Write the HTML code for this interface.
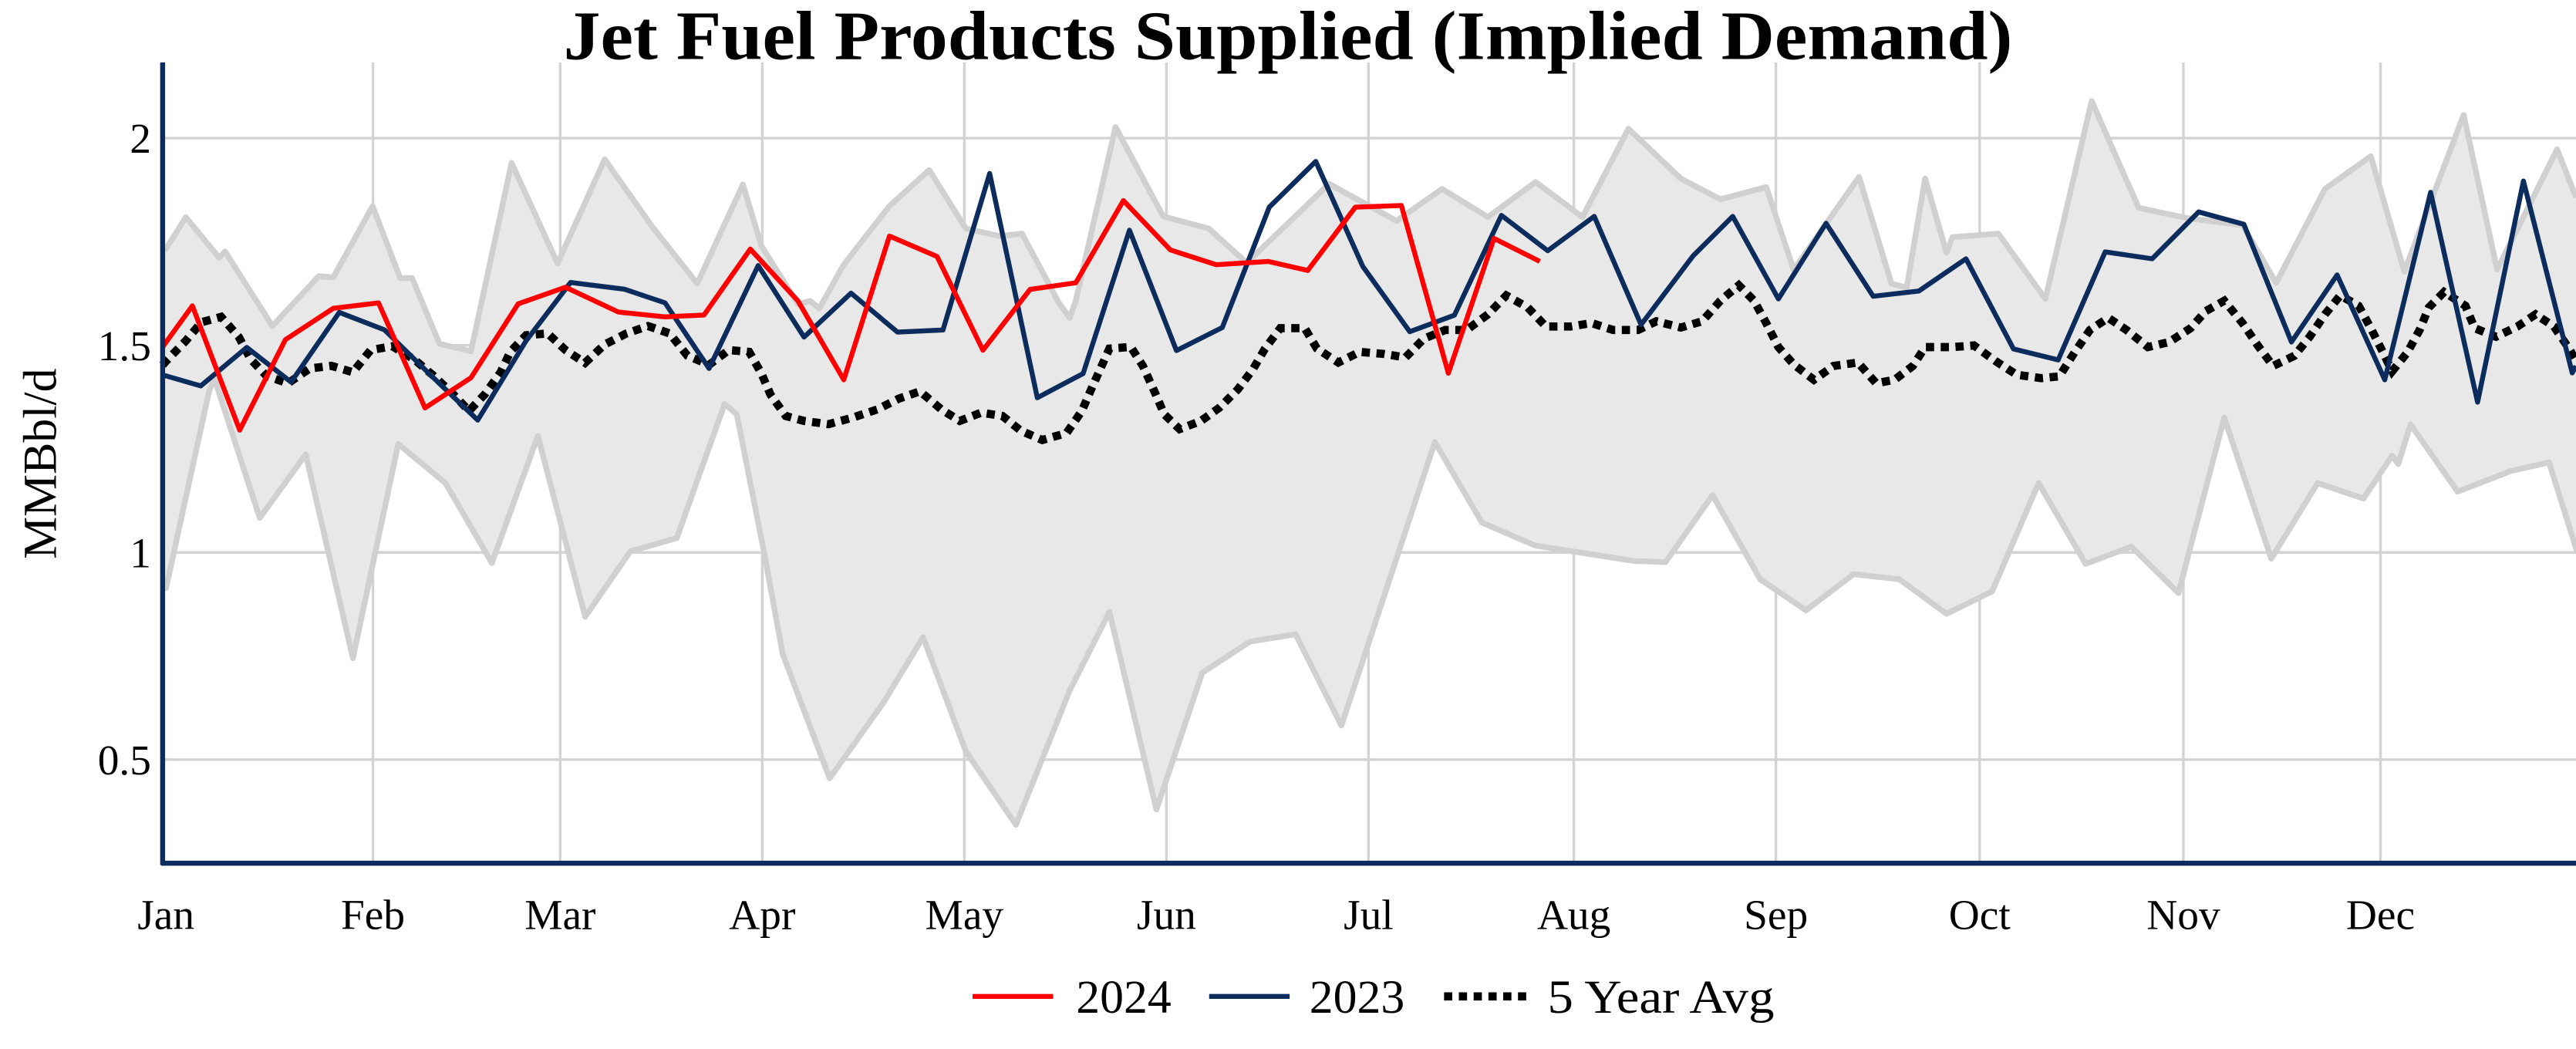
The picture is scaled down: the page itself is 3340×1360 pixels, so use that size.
<!DOCTYPE html>
<html><head><meta charset="utf-8"><style>
html,body{margin:0;padding:0;background:#fff;}
svg{display:block;}
text{font-family:"Liberation Serif",serif;fill:#000;}
</style></head><body>
<svg width="3340" height="1360" viewBox="0 0 1568 638" preserveAspectRatio="none" xmlns="http://www.w3.org/2000/svg">
<text x="343" y="36" font-size="42" font-weight="bold" textLength="882" lengthAdjust="spacingAndGlyphs">Jet Fuel Products Supplied (Implied Demand)</text>
<g stroke="#d3d3d3" stroke-width="1.6">
<line x1="99" y1="84" x2="1568" y2="84"/><line x1="99" y1="210" x2="1568" y2="210"/><line x1="99" y1="336" x2="1568" y2="336"/><line x1="99" y1="462" x2="1568" y2="462"/>
<line x1="227" y1="38" x2="227" y2="525"/><line x1="341" y1="38" x2="341" y2="525"/><line x1="464" y1="38" x2="464" y2="525"/><line x1="587" y1="38" x2="587" y2="525"/><line x1="710" y1="38" x2="710" y2="525"/><line x1="833" y1="38" x2="833" y2="525"/><line x1="958" y1="38" x2="958" y2="525"/><line x1="1081" y1="38" x2="1081" y2="525"/><line x1="1205" y1="38" x2="1205" y2="525"/><line x1="1329" y1="38" x2="1329" y2="525"/><line x1="1449" y1="38" x2="1449" y2="525"/>
</g>
<polygon fill="#e8e8e8" points="99,150 101.1,151.2 113.1,132.1 133.4,156.8 137,153 165.8,198.3 194,168 202.9,168.7 226.8,125.4 243.6,169.1 250.8,169.1 267.5,209.1 286.7,213.6 311.4,99.1 339.4,160.2 368.1,96.9 396.9,137.7 424.4,172.5 452.2,112.2 463.4,149.4 485.7,185 493.1,183 498.7,187.5 513.6,160.9 541.4,125.3 565.6,103.4 587.9,139 608.4,143.6 622.1,142.1 644.4,184 651.1,193.3 654.8,183 679,77.2 708,131.6 735.8,139 758.9,159.9 809,111.8 850,134.3 877.8,114.9 905.7,132 934.7,110.7 963.3,132 991.2,78.3 1023.1,108.6 1047.2,121.2 1075.1,113.8 1091.8,164.1 1131.6,107.6 1151.3,172.4 1160.6,175 1171.8,108.6 1184.8,153.6 1188.5,144.2 1216.4,142.1 1245,181.8 1273.2,61.5 1301.8,126.4 1331.6,132.7 1365,136.9 1385.5,172 1415.2,114.9 1443.1,95 1463.5,165.1 1499.6,69.9 1520,164 1556.5,90.8 1568,120 1568.7,335.6 1551.6,281.2 1528.6,286.4 1495.9,299 1467.3,258.2 1459.8,282.3 1456.1,277.1 1438.6,303.2 1410.7,293.8 1382.5,339.8 1353.9,254 1326,360.7 1297.4,332.5 1269.5,342.9 1240.9,293.8 1212.6,359.7 1184.8,373.3 1156.1,352.3 1128.3,349.2 1099.3,371.2 1071.4,352.3 1042.4,301.1 1013.8,341.9 994.9,341.2 934.7,331.9 902,317.8 873.4,268.8 816.5,441.3 788.6,385.7 760.7,390.3 731.8,409.2 703.9,492.3 675.3,372.1 651.1,420 618.4,501.6 587.9,457 561.9,387.5 537.7,427.4 505,473.4 476.4,397.7 465.2,336.5 448.5,252.1 441.1,245.6 411.9,327.3 383.7,335.3 356.2,375.1 327.4,265.2 299.4,342.4 271.1,293.7 242.4,270.1 214.8,400.3 186.1,276.4 158.1,315 130.6,230.6 127.4,237.3 101.1,357.6 99,352"/>
<g fill="none" stroke="#d0d0d0" stroke-width="3.5" stroke-linejoin="round">
<polyline points="99,150 101.1,151.2 113.1,132.1 133.4,156.8 137,153 165.8,198.3 194,168 202.9,168.7 226.8,125.4 243.6,169.1 250.8,169.1 267.5,209.1 286.7,213.6 311.4,99.1 339.4,160.2 368.1,96.9 396.9,137.7 424.4,172.5 452.2,112.2 463.4,149.4 485.7,185 493.1,183 498.7,187.5 513.6,160.9 541.4,125.3 565.6,103.4 587.9,139 608.4,143.6 622.1,142.1 644.4,184 651.1,193.3 654.8,183 679,77.2 708,131.6 735.8,139 758.9,159.9 809,111.8 850,134.3 877.8,114.9 905.7,132 934.7,110.7 963.3,132 991.2,78.3 1023.1,108.6 1047.2,121.2 1075.1,113.8 1091.8,164.1 1131.6,107.6 1151.3,172.4 1160.6,175 1171.8,108.6 1184.8,153.6 1188.5,144.2 1216.4,142.1 1245,181.8 1273.2,61.5 1301.8,126.4 1331.6,132.7 1365,136.9 1385.5,172 1415.2,114.9 1443.1,95 1463.5,165.1 1499.6,69.9 1520,164 1556.5,90.8 1568,120"/>
<polyline points="99,352 101.1,357.6 127.4,237.3 130.6,230.6 158.1,315 186.1,276.4 214.8,400.3 242.4,270.1 271.1,293.7 299.4,342.4 327.4,265.2 356.2,375.1 383.7,335.3 411.9,327.3 441.1,245.6 448.5,252.1 465.2,336.5 476.4,397.7 505,473.4 537.7,427.4 561.9,387.5 587.9,457 618.4,501.6 651.1,420 675.3,372.1 703.9,492.3 731.8,409.2 760.7,390.3 788.6,385.7 816.5,441.3 873.4,268.8 902,317.8 934.7,331.9 994.9,341.2 1013.8,341.9 1042.4,301.1 1071.4,352.3 1099.3,371.2 1128.3,349.2 1156.1,352.3 1184.8,373.3 1212.6,359.7 1240.9,293.8 1269.5,342.9 1297.4,332.5 1326,360.7 1353.9,254 1382.5,339.8 1410.7,293.8 1438.6,303.2 1456.1,277.1 1459.8,282.3 1467.3,258.2 1495.9,299 1528.6,286.4 1551.6,281.2 1568.7,335.6"/>
</g>
<polyline fill="none" stroke="#000" stroke-width="5" stroke-dasharray="5,4" points="99,222 101.1,219.6 113.1,207.3 122.6,196 134.6,192.7 145.4,205 152.6,218.5 162.2,228.6 175.3,233.1 188.5,224.1 201.7,222.5 214.8,226.4 225.6,212.9 238.8,210.6 252,218.5 264,228.6 275.9,239.8 285.5,249.9 295.1,239.8 304.7,226.4 310.6,214 320.2,203.9 333.4,202.8 344.2,212.9 356.1,220.7 368.1,209.5 381.3,202.8 394.5,198.3 407.6,202.8 418.4,216.3 431.6,221.9 443.6,212.9 456,214 463.4,227 469,240 478.3,253 489.4,256 504.3,258 519.1,254 534,249 547,242.5 560,238 573,249 584.2,256 597.2,251 610.2,253 621.4,262 634.4,267.6 649.2,263.4 658.5,250 664.1,237 675.3,212 688.3,211 695.7,222.6 703.1,239 708.7,252 718,261 731,256 742.2,248 753.3,237 762.6,224.7 770,212 779.3,199.6 794.2,199.6 801.6,212 814.6,220.5 827.7,214 842.5,215.3 855.5,217.4 866.7,206 879.7,200.7 892.7,200.7 905.7,191.2 916.9,179.7 929.9,187 941,198.6 955.9,198.6 968.9,196.5 981.9,200.7 997.1,200.7 1008.2,195.4 1023.1,199.2 1036.1,195.4 1047.2,182.9 1058.4,173.5 1067.7,182.9 1075.1,196.5 1082.5,211.1 1091.8,221.6 1104.1,231 1116,222.6 1130.9,220.5 1142,233.1 1153.2,231 1164.3,222.6 1171.8,211.1 1188.5,211.1 1201.5,210.1 1214.5,219.5 1227.5,227.9 1242.4,230 1253.5,228.9 1262.8,214.3 1272.1,200.7 1283.3,193.3 1294.4,200.7 1307.4,211.1 1320.4,208 1333.4,199.6 1342.7,189.2 1353.9,182.9 1365,196.5 1374.3,210.1 1383.6,222.6 1396.6,216.4 1405.9,204.8 1415.2,191.2 1424.5,179.7 1435.7,186 1443.1,199.6 1450.5,214.3 1456.1,225.8 1465.4,214.3 1472.8,200.7 1478.4,187 1487.7,177.6 1500.7,186 1506.3,199.6 1519.3,204.8 1532.3,198.6 1543.4,191.2 1554.6,198.6 1563.9,212.2 1568.7,220.5"/>
<polyline fill="none" stroke="#0b2c5c" stroke-width="3" stroke-linejoin="round" points="99,228 122.2,234.7 150.2,211.3 177.2,232.4 206.5,190 234,200.6 262,228 290.8,255.5 320.2,207.3 347.3,171.8 380.1,175.9 404.8,184.2 431.6,224.1 461.5,161.5 489.4,205 518,178.3 546.3,202 574,200.7 602.4,105.5 631.4,241.9 659.3,227.2 687.5,140 716.1,213.2 744,199.2 772.6,126 800.9,98.2 829.5,162 858.1,201.7 885.3,191.7 913.9,131 942.1,152.5 970.4,131.6 998.9,197.5 1030.5,155.7 1054.7,131.6 1082.5,181.8 1111.5,135.8 1140.2,180.2 1168,177 1196.7,157.4 1225.6,212.2 1252.8,218.9 1281.4,153.2 1310,157.4 1338.3,128.9 1365.8,136.4 1394.8,208 1422.6,167.2 1451.6,231 1479.5,117 1508.1,244.6 1536,110.1 1565.7,226.8 1568,222.6"/>
<polyline fill="none" stroke="#ff0000" stroke-width="3" stroke-linejoin="round" points="99,211 117.1,186 145.9,261.6 173.7,206.6 202.9,187.5 230.4,184.2 258.7,248.1 286.7,229.7 315.4,184.8 344.2,174.7 376.5,189.8 404.8,192.7 428.5,191.6 456.7,151.5 485.7,183 513.6,231 541.4,143.6 570.4,156 598.3,213 627,176 654.8,172 683.8,122 712.4,152 740.3,161 772,159 796,164.5 825,126 853,125 881.6,227 909.4,145 937.3,159"/>
<line x1="99" y1="38" x2="99" y2="526" stroke="#0b2c5c" stroke-width="3"/>
<line x1="98" y1="525" x2="1568" y2="525" stroke="#0b2c5c" stroke-width="3"/>
<g font-size="26" text-anchor="end">
<text x="92" y="93">2</text><text x="92" y="219">1.5</text><text x="92" y="345">1</text><text x="92" y="471">0.5</text>
</g>
<text transform="translate(34,282) rotate(-90)" font-size="29" text-anchor="middle">MMBbl/d</text>
<g font-size="26" text-anchor="middle">
<text x="101" y="565">Jan</text><text x="227" y="565">Feb</text><text x="341" y="565">Mar</text><text x="464" y="565">Apr</text><text x="587" y="565">May</text><text x="710" y="565">Jun</text><text x="833" y="565">Jul</text><text x="958" y="565">Aug</text><text x="1081" y="565">Sep</text><text x="1205" y="565">Oct</text><text x="1329" y="565">Nov</text><text x="1449" y="565">Dec</text>
</g>
<line x1="592" y1="606" x2="641" y2="606" stroke="#ff0000" stroke-width="3"/>
<text x="655" y="616" font-size="29">2024</text>
<line x1="736" y1="606" x2="785" y2="606" stroke="#0b2c5c" stroke-width="3"/>
<text x="797" y="616" font-size="29">2023</text>
<line x1="879" y1="606" x2="930" y2="606" stroke="#000" stroke-width="5" stroke-dasharray="5,4"/>
<text x="942" y="616" font-size="29" textLength="138" lengthAdjust="spacingAndGlyphs">5 Year Avg</text>
</svg>
</body></html>
